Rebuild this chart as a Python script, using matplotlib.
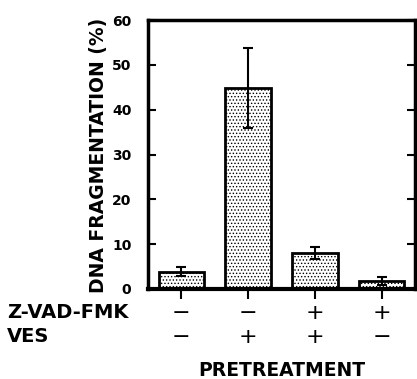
import matplotlib
matplotlib.use("Agg")
import matplotlib.pyplot as plt
import matplotlib.transforms as mtransforms

# Data
groups = ["1", "2", "3", "4"]
values = [3.8, 44.8, 8.0, 1.8]
errors = [1.0, 9.0, 1.3, 0.9]
zvad = ["−", "−", "+", "+"]
ves = ["−", "+", "+", "−"]
yticks = [0, 10, 20, 30, 40, 50, 60]
row_labels = ["Z-VAD-FMK", "VES"]

plt.rcParams['font.family'] = ['DejaVu Sans']
plt.rcParams['hatch.linewidth'] = 0.6

W, H = 417, 379
fig = plt.figure(figsize=(W / 100, H / 100), dpi=100)
ax = fig.add_axes([148 / W, 1 - 289 / H, (415 - 148) / W, (289 - 20) / H])

x = list(range(len(groups)))
ax.bar(x, values, width=0.68, color="white", edgecolor="black",
       linewidth=2.0, hatch=".....", zorder=2)
ax.errorbar(x, values, yerr=errors, fmt="none", ecolor="black",
            elinewidth=1.5, capsize=3.5, capthick=1.5, zorder=3)

ax.set_xlim(-0.5, 3.5)
ax.set_ylim(0, 60)
ax.set_yticks(yticks)
ax.set_yticklabels([str(t) for t in yticks], fontsize=10, fontweight="bold")
ax.tick_params(axis="y", direction="in", length=6, width=1.5, pad=12,
               right=True)
ax.set_xticks(x)
ax.set_xticklabels([])
ax.tick_params(axis="x", direction="out", length=7, width=1.5)

for side, lw in [("left", 2.5), ("bottom", 3.0), ("top", 2.5), ("right", 2.5)]:
    ax.spines[side].set_linewidth(lw)

ax.set_ylabel("DNA FRAGMENTATION (%)", fontsize=13.5, fontweight="bold")
ax.yaxis.set_label_coords(99 / W, 1 - 155 / H, transform=fig.transFigure)
ax.yaxis.label.set_va("center")

# Row labels and +/- signs
trans = mtransforms.blended_transform_factory(ax.transData, fig.transFigure)
row_y = [1 - 313 / H, 1 - 337 / H]
for lab, yy in zip(row_labels, row_y):
    fig.text(7 / W, yy, lab, fontsize=14, fontweight="bold",
             ha="left", va="center")
for xi, s1, s2 in zip(x, zvad, ves):
    ax.text(xi, row_y[0], s1, transform=trans, fontsize=16,
            ha="center", va="center")
    ax.text(xi, row_y[1], s2, transform=trans, fontsize=16,
            ha="center", va="center")

fig.text(282 / W, 1 - 370 / H, "PRETREATMENT", fontsize=13.5,
         fontweight="bold", ha="center", va="center")

fig.savefig("out.png", dpi=100)
